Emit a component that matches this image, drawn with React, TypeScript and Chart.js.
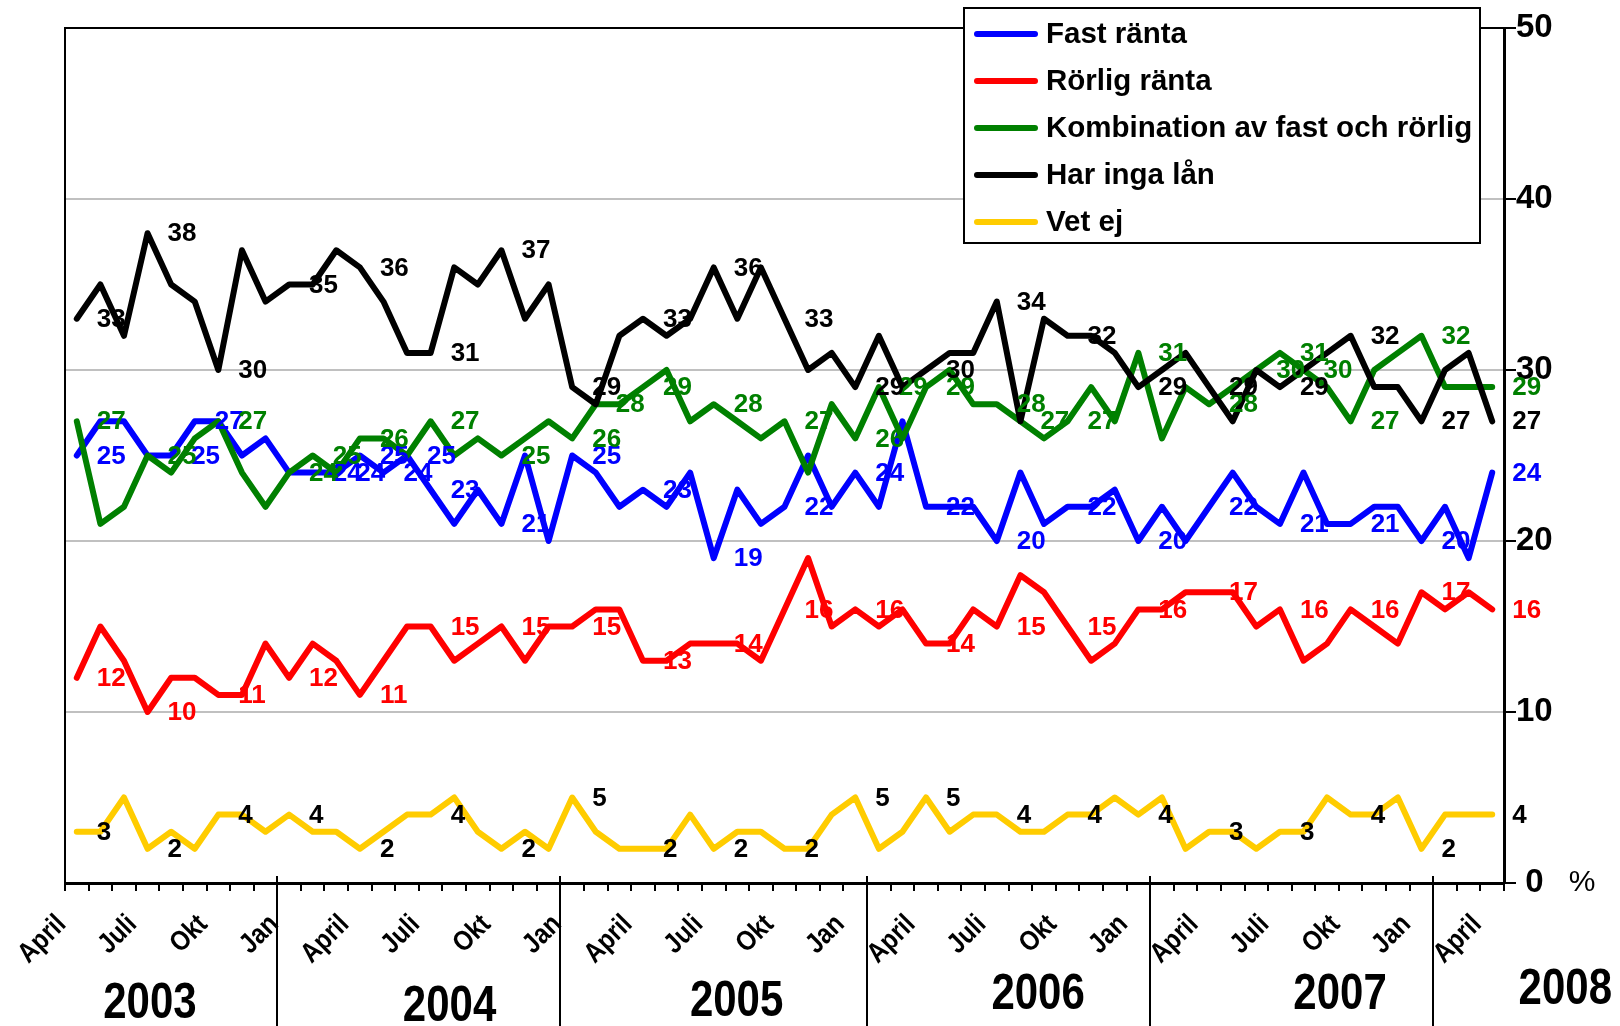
import React, { useEffect, useRef } from 'react';
import { Chart, registerables } from 'chart.js';

Chart.register(...registerables);

// ---------- DATA ----------
const monthNames = ['April', 'Maj', 'Juni', 'Juli', 'Aug', 'Sep', 'Okt', 'Nov', 'Dec', 'Jan', 'Feb', 'Mars'];
const categories: string[] = Array.from({ length: 61 }, (_, i) => monthNames[i % 12]);

const fastRanta = [25, 27, 27, 25, 25, 27, 27, 25, 26, 24, 24, 24, 25, 24, 25, 23, 21, 23, 21, 25, 20, 25, 24, 22, 23, 22, 24, 19, 23, 21, 22, 25, 22, 24, 22, 27, 22, 22, 22, 20, 24, 21, 22, 22, 23, 20, 22, 20, 22, 24, 22, 21, 24, 21, 21, 22, 22, 20, 22, 19, 24];
const rorligRanta = [12, 15, 13, 10, 12, 12, 11, 11, 14, 12, 14, 13, 11, 13, 15, 15, 13, 14, 15, 13, 15, 15, 16, 16, 13, 13, 14, 14, 14, 13, 16, 19, 15, 16, 15, 16, 14, 14, 16, 15, 18, 17, 15, 13, 14, 16, 16, 17, 17, 17, 15, 16, 13, 14, 16, 15, 14, 17, 16, 17, 16];
const kombination = [27, 21, 22, 25, 24, 26, 27, 24, 22, 24, 25, 24, 26, 26, 25, 27, 25, 26, 25, 26, 27, 26, 28, 28, 29, 30, 27, 28, 27, 26, 27, 24, 28, 26, 29, 26, 29, 30, 28, 28, 27, 26, 27, 29, 27, 31, 26, 29, 28, 29, 30, 31, 30, 29, 27, 30, 31, 32, 29, 29, 29];
const ingaLan = [33, 35, 32, 38, 35, 34, 30, 37, 34, 35, 35, 37, 36, 34, 31, 31, 36, 35, 37, 33, 35, 29, 28, 32, 33, 32, 33, 36, 33, 36, 33, 30, 31, 29, 32, 29, 30, 31, 31, 34, 27, 33, 32, 32, 31, 29, 30, 31, 29, 27, 30, 29, 30, 31, 32, 29, 29, 27, 30, 31, 27];
const vetEj = [3, 3, 5, 2, 3, 2, 4, 4, 3, 4, 3, 3, 2, 3, 4, 4, 5, 3, 2, 3, 2, 5, 3, 2, 2, 2, 4, 2, 3, 3, 2, 2, 4, 5, 2, 3, 5, 3, 4, 4, 3, 3, 4, 4, 5, 4, 5, 2, 3, 3, 2, 3, 3, 5, 4, 4, 5, 2, 4, 4, 4];

const seriesNames = ['Fast ränta', 'Rörlig ränta', 'Kombination av fast och rörlig', 'Har inga lån', 'Vet ej'];

// indices of points that carry a value label
const every3 = Array.from({ length: 21 }, (_, i) => i * 3);
const fastLabelIdx = [0, 4, 5, 10, 11, 12, 13, 14, 15, 18, 21, 24, 27, 30, 33, 36, 39, 42, 45, 48, 51, 54, 57, 60];
const rorligLabelIdx = every3;
const kombLabelIdx = [0, 3, 6, 9, 10, 12, 15, 18, 21, 22, 24, 27, 30, 33, 34, 36, 39, 40, 42, 45, 48, 50, 51, 52, 54, 57, 60];
const ingaLabelIdx = every3;
const vetLabelIdx = every3;

const yTickValues = [0, 10, 20, 30, 40, 50];
const yearLabels = ['2003', '2004', '2005', '2006', '2007', '2008'];
const yearBoundaries = [9, 21, 34, 46, 58];
const yearLabelCat = [3.1, 15.8, 27.97, 40.75, 53.55, 63.1];
const yearLabelY = [1004, 1007, 1002, 995, 995, 990];

// ---------- STYLE ----------
const FONT = '"Liberation Sans", Arial, Helvetica, sans-serif';
const colors = ['#0000FF', '#FF0000', '#008000', '#000000', '#FFCC00'];
const labelColors = ['#0000FF', '#FF0000', '#008000', '#000000', '#000000'];
const labelIdx = [fastLabelIdx, rorligLabelIdx, kombLabelIdx, ingaLabelIdx, vetLabelIdx];

const overlayPlugin = {
  id: 'overlay',
  afterDatasetsDraw(chart: any) {
    const ctx = chart.ctx;
    const area = chart.chartArea;
    ctx.save();
    ctx.strokeStyle = '#000';
    ctx.lineWidth = 2;
    ctx.beginPath();
    ctx.moveTo(area.left, area.bottom);
    ctx.lineTo(area.left, area.top);
    ctx.lineTo(area.right, area.top);
    ctx.stroke();
    ctx.restore();

    ctx.save();
    ctx.font = `bold 26px ${FONT}`;
    ctx.textAlign = 'left';
    ctx.textBaseline = 'middle';
    chart.data.datasets.forEach((ds: any, di: number) => {
      const meta = chart.getDatasetMeta(di);
      ctx.fillStyle = labelColors[di];
      labelIdx[di].forEach((i: number) => {
        const pt = meta.data[i];
        if (!pt) return;
        ctx.fillText(String(ds.data[i]), pt.x + 20, pt.y + 1);
      });
    });
    ctx.restore();
  },
  afterDraw(chart: any) {
    const ctx = chart.ctx;
    const area = chart.chartArea;
    const xs = chart.scales.x;
    ctx.save();
    // month labels, rotated and slightly condensed
    ctx.fillStyle = '#000';
    ctx.font = `bold 28px ${FONT}`;
    ctx.textAlign = 'right';
    ctx.textBaseline = 'middle';
    categories.forEach((c, i) => {
      if (i % 3 !== 0) return;
      const x = xs.getPixelForValue(i);
      ctx.save();
      ctx.translate(x - 15, area.bottom + 37);
      ctx.rotate(-Math.PI / 4);
      ctx.scale(0.86, 1);
      ctx.fillText(c, 0, 0);
      ctx.restore();
    });

    // year separators
    ctx.strokeStyle = '#000';
    ctx.lineWidth = 2;
    yearBoundaries.forEach((b) => {
      const x = Math.round(xs.getPixelForValue(b - 0.5));
      ctx.beginPath();
      ctx.moveTo(x, area.bottom - 7);
      ctx.lineTo(x, chart.height);
      ctx.stroke();
    });
    // year labels (condensed bold)
    ctx.fillStyle = '#000';
    ctx.font = `bold 50px ${FONT}`;
    ctx.textAlign = 'center';
    ctx.textBaseline = 'middle';
    yearLabels.forEach((t, i) => {
      const x = xs.getPixelForValue(yearLabelCat[i]);
      ctx.save();
      ctx.translate(x, yearLabelY[i]);
      ctx.scale(0.84, 1);
      ctx.fillText(t, 0, 0);
      ctx.restore();
    });
    // % sign
    ctx.font = `30px ${FONT}`;
    ctx.fillText('%', 1582, area.bottom);

    // legend
    const lx = 964, ly = 8, lw = 516, lh = 235;
    ctx.fillStyle = '#fff';
    ctx.fillRect(lx, ly, lw, lh);
    ctx.strokeStyle = '#000';
    ctx.lineWidth = 2;
    ctx.strokeRect(lx, ly, lw, lh);
    ctx.font = `bold 29.5px ${FONT}`;
    ctx.textAlign = 'left';
    ctx.textBaseline = 'middle';
    seriesNames.forEach((name, i) => {
      const y = 34 + i * 47;
      ctx.strokeStyle = colors[i];
      ctx.lineWidth = 6;
      ctx.lineCap = 'round';
      ctx.beginPath();
      ctx.moveTo(977, y);
      ctx.lineTo(1035, y);
      ctx.stroke();
      ctx.fillStyle = '#000';
      ctx.fillText(name, 1046, y + 1);
    });
    ctx.restore();
  },
};

export default function App() {
  const canvasRef = useRef<HTMLCanvasElement | null>(null);

  useEffect(() => {
    document.body.style.margin = '0';
    const canvas = canvasRef.current;
    if (!canvas) return;
    const seriesData = [fastRanta, rorligRanta, kombination, ingaLan, vetEj];
    const chart = new Chart(canvas, {
      type: 'line',
      data: {
        labels: categories,
        datasets: seriesData.map((d, i) => ({
          label: seriesNames[i],
          data: d,
          borderColor: colors[i],
          backgroundColor: colors[i],
          borderWidth: 6,
          pointRadius: 0,
          tension: 0,
          fill: false,
          borderJoinStyle: 'round' as const,
          borderCapStyle: 'round' as const,
          order: 5 - i,
        })),
      },
      options: {
        responsive: false,
        animation: false,
        events: [],
        layout: { padding: { left: 65, top: 28, right: 0, bottom: 0 } },
        plugins: {
          legend: { display: false },
          tooltip: { enabled: false },
          title: { display: false },
        },
        scales: {
          x: {
            type: 'category',
            offset: true,
            grid: {
              display: true,
              drawOnChartArea: false,
              drawTicks: true,
              tickLength: 8,
              color: '#000',
              lineWidth: 2,
              offset: true,
            },
            border: { display: true, color: '#000', width: 3 },
            ticks: {
              display: false,
              autoSkip: false,
            },
            afterFit: (scale: any) => {
              scale.height = 143;
            },
          },
          y: {
            position: 'right',
            min: 0,
            max: 50,
            afterBuildTicks: (scale: any) => {
              scale.ticks = yTickValues.map((v) => ({ value: v }));
            },
            grid: {
              color: '#c0c0c0',
              lineWidth: 2,
              tickColor: '#000',
              tickWidth: 2,
              tickLength: 12,
            },
            border: { display: true, color: '#000', width: 3 },
            ticks: {
              padding: 0,
              crossAlign: 'center',
              color: '#000',
              font: { family: FONT, size: 33, weight: 'bold' },
            },
            afterFit: (scale: any) => {
              scale.width = 116;
            },
          },
        },
      },
      plugins: [overlayPlugin],
    } as any);
    return () => chart.destroy();
  }, []);

  return (
    <div style={{ position: 'absolute', left: 0, top: 0, width: 1620, height: 1026, background: '#fff', overflow: 'hidden' }}>
      <canvas ref={canvasRef} width={1620} height={1026} style={{ display: 'block', width: 1620, height: 1026 }} />
    </div>
  );
}
